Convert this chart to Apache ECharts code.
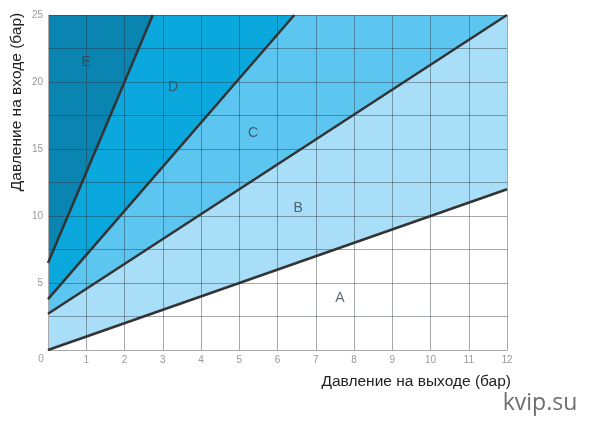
<!DOCTYPE html>
<html>
<head>
<meta charset="utf-8">
<script src="https://cdn.jsdelivr.net/npm/echarts@6/dist/echarts.min.js"></script>
<style>html,body{margin:0;padding:0;background:#fff}#c{width:600px;height:429px}</style>
</head>
<body>
<div id="c"></div>
<script>
// Boundary lines (outlet pressure x, inlet pressure y)
const lineAB = [[0, 0], [12, 12]];
const lineBC = [[0, 2.7], [12, 25]];
const lineCD = [[0, 3.8], [6.44, 25]];
const lineDE = [[0, 6.5], [2.74, 25]];
// Zone labels
const zoneNames = ['A', 'B', 'C', 'D', 'E'];
const zonePos = [[7.63, 3.9], [6.54, 10.6], [5.36, 16.2], [3.27, 19.6], [1.0, 21.5]];
const zoneColors = ['#ffffff', '#a9def8', '#5cc5f0', '#0aa8dc', '#0a84b0'];
const xMax = 12, yMax = 25;

function areaData(line) {
  const d = line.slice();
  const last = d[d.length - 1];
  if (last[0] < xMax) d.push([xMax, yMax]);
  return d;
}
function areaSeries(data, color) {
  return {
    type: 'line', data: data, symbol: 'none', z: 2,
    lineStyle: { width: 0 }, areaStyle: { color: color, opacity: 1 }, silent: true
  };
}
function boundary(data) {
  return {
    type: 'line', data: data, symbol: 'none', z: 5,
    lineStyle: { width: 2.5, color: '#333' }, silent: true
  };
}

const series = [
  areaSeries([[0, yMax], [xMax, yMax]], zoneColors[4]),
  areaSeries(areaData(lineDE), zoneColors[3]),
  areaSeries(areaData(lineCD), zoneColors[2]),
  areaSeries(areaData(lineBC), zoneColors[1]),
  areaSeries(areaData(lineAB), zoneColors[0]),
  boundary(lineAB), boundary(lineBC), boundary(lineCD), boundary(lineDE),
  {
    type: 'scatter', symbolSize: 0, z: 6, silent: true,
    data: zonePos.map((p, i) => ({ value: p, name: zoneNames[i] })),
    label: {
      show: true, position: 'inside', formatter: '{b}',
      fontFamily: 'Liberation Sans, Arial, sans-serif', fontSize: 14, color: '#34444f'
    }
  }
];

const chart = echarts.init(document.getElementById('c'), null, { renderer: 'canvas' });
chart.setOption({
  animation: false,
  grid: { left: 48, right: 93, top: 15, bottom: 79 },
  xAxis: {
    type: 'value', min: 0, max: xMax, interval: 1, z: 3,
    axisLine: { show: true, onZero: false, lineStyle: { color: '#aaa', width: 1 } },
    axisTick: { show: false },
    axisLabel: {
      color: '#999', fontSize: 10, margin: 5, fontFamily: 'Liberation Sans, Arial, sans-serif',
      formatter: v => v === 0 ? '' : String(v)
    },
    splitLine: { show: true, lineStyle: { color: 'rgba(40,50,60,0.42)', width: 1 } }
  },
  yAxis: {
    type: 'value', min: 0, max: yMax, interval: 2.5, z: 3,
    axisLine: { show: true, lineStyle: { color: '#aaa', width: 1 } },
    axisTick: { show: false },
    axisLabel: {
      color: '#999', fontSize: 10, margin: 5, fontFamily: 'Liberation Sans, Arial, sans-serif',
      formatter: v => (v % 5 === 0 && v !== 0) ? String(v) : ''
    },
    splitLine: { show: true, lineStyle: { color: 'rgba(40,50,60,0.42)', width: 1 } }
  },
  graphic: [
    { type: 'text', x: 41, y: 359, style: { text: '0', fill: '#999', font: '10px Liberation Sans, Arial, sans-serif', textAlign: 'center', textVerticalAlign: 'middle' } },
    { type: 'text', x: 511, y: 382, style: { text: 'Давление на выходе (бар)', fill: '#222', font: '15.5px Liberation Sans, Arial, sans-serif', textAlign: 'right', textVerticalAlign: 'middle' } },
    { type: 'text', x: 17, y: 102, rotation: Math.PI / 2, style: { text: 'Давление на входе (бар)', fill: '#222', font: '15.5px Liberation Sans, Arial, sans-serif', textAlign: 'center', textVerticalAlign: 'middle' } },
    { type: 'text', x: 540, y: 403, style: { text: 'kvip.su', fill: '#6e6e6e', font: '23px Open Sans, Liberation Sans, sans-serif', textAlign: 'center', textVerticalAlign: 'middle' } }
  ],
  series: series
});
</script>
</body>
</html>
